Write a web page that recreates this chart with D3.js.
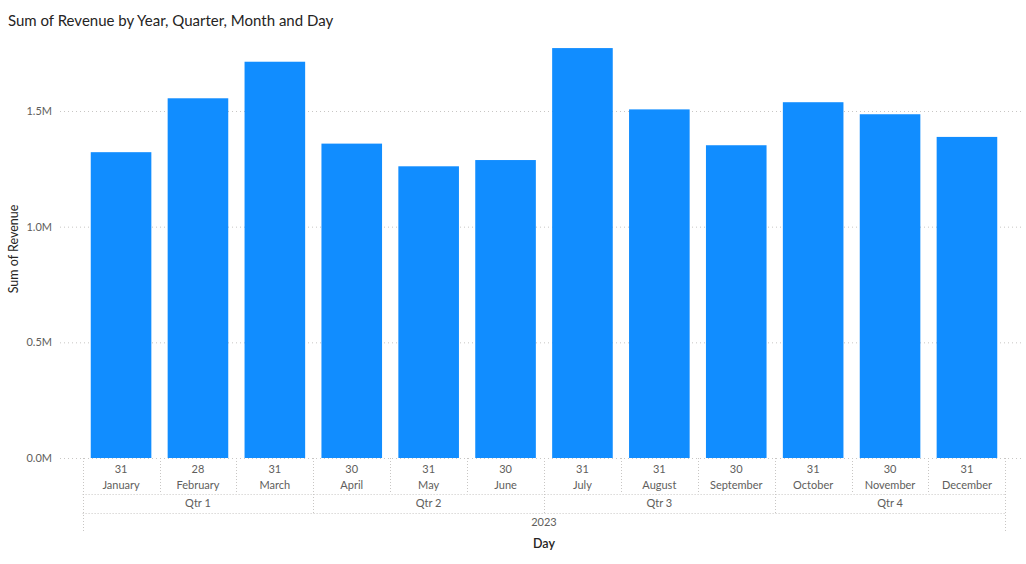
<!DOCTYPE html>
<html><head><meta charset="utf-8">
<script src="https://cdn.jsdelivr.net/npm/d3@7"></script>
<style>
html,body{margin:0;padding:0;background:#fff;}
svg{display:block;font-family:"Segoe UI","Lato","Noto Sans",sans-serif;}
</style></head>
<body>
<svg id="chart" width="1026" height="564"></svg>
<script>
const months = ["January","February","March","April","May","June","July","August","September","October","November","December"];
const days = ["31","28","31","30","31","30","31","31","30","31","30","31"];
const quarters = ["Qtr 1","Qtr 2","Qtr 3","Qtr 4"];
const quarterOfMonth = [0,0,0,1,1,1,2,2,2,3,3,3];
const years = ["2023"];
const revenue = [1322000,1555000,1713000,1359000,1261000,1288000,1772000,1507000,1352000,1538000,1486000,1388000];
const yTicks = [0,500000,1000000,1500000];

const svg = d3.select("#chart");
const x0 = 82.6, x1 = 1005.4, yBase = 458, pxPerM = 231.33;
const x = d3.scaleBand().domain(months).range([x0, x1]).paddingInner(0.212).paddingOuter(0.106);
const y = d3.scaleLinear().domain([0, 1.8e6]).range([yBase, yBase - 1.8*pxPerM]);

// title
svg.append("text").attr("x",8).attr("y",26).attr("fill","#252423")
  .style("font-size","15px").text("Sum of Revenue by Year, Quarter, Month and Day");

// gridlines + y labels
const grid = svg.append("g");
yTicks.forEach(t=>{
  grid.append("line").attr("x1",60).attr("x2",1024).attr("y1",y(t)+0.5).attr("y2",y(t)+0.5)
    .attr("stroke","#C8C6C4").attr("stroke-width",1).attr("stroke-dasharray","1,3");
  grid.append("text").attr("x",52).attr("y",y(t)).attr("dy","0.35em").attr("text-anchor","end")
    .attr("fill","#605E5C").style("font-size","11px").text(d3.format(".1f")(t/1e6)+"M");
});

// y title
svg.append("text").attr("transform","translate(18,249) rotate(-90)").attr("text-anchor","middle")
  .attr("fill","#252423").style("font-size","12.5px").text("Sum of Revenue");

// bars
svg.append("g").selectAll("rect").data(revenue).join("rect")
  .attr("x",(d,i)=>x(months[i])).attr("width",x.bandwidth())
  .attr("y",d=>y(d)).attr("height",d=>yBase-y(d))
  .attr("fill","#118DFF");

// hierarchical x axis
const ax = svg.append("g");
const dot = {stroke:"#C8C6C4","stroke-width":1,"stroke-dasharray":"1,2"};
function vline(xx, ya, yb){
  const l = ax.append("line").attr("x1",Math.round(xx)+0.5).attr("x2",Math.round(xx)+0.5).attr("y1",ya).attr("y2",yb);
  Object.entries(dot).forEach(([k,v])=>l.attr(k,v));
}
function hline(xa, xb, yy){
  const l = ax.append("line").attr("x1",xa).attr("x2",xb).attr("y1",yy+0.5).attr("y2",yy+0.5);
  Object.entries(dot).forEach(([k,v])=>l.attr(k,v));
}
const step = x.step();
const bandStart = i => x0 + i*step;
// month separators
for(let i=1;i<12;i++){ if(i%3!==0) vline(bandStart(i), yBase, 494); }
// quarter separators
for(let q=1;q<4;q++){ vline(bandStart(q*3), yBase, 513); }
// outer
vline(x0, yBase, 532); vline(x1, yBase, 532);
hline(x0, x1, 494); hline(x0, x1, 513);

months.forEach((m,i)=>{
  const cx = bandStart(i)+step/2;
  ax.append("text").attr("x",cx).attr("y",469).attr("dy","0.35em").attr("text-anchor","middle")
    .attr("fill","#605E5C").style("font-size","11px").text(days[i]);
  ax.append("text").attr("x",cx).attr("y",485).attr("dy","0.35em").attr("text-anchor","middle")
    .attr("fill","#605E5C").style("font-size","11px").text(m);
});
quarters.forEach((q,qi)=>{
  const cx = bandStart(qi*3)+step*1.5;
  ax.append("text").attr("x",cx).attr("y",503.5).attr("dy","0.35em").attr("text-anchor","middle")
    .attr("fill","#605E5C").style("font-size","11px").text(q);
});
years.forEach(yr=>{
  ax.append("text").attr("x",(x0+x1)/2).attr("y",522.5).attr("dy","0.35em").attr("text-anchor","middle")
    .attr("fill","#605E5C").style("font-size","11px").text(yr);
});
svg.append("text").attr("x",(x0+x1)/2).attr("y",544).attr("dy","0.35em").attr("text-anchor","middle")
  .attr("fill","#252423").style("font-size","12.5px").style("font-weight","600").text("Day");
</script>
</body></html>
